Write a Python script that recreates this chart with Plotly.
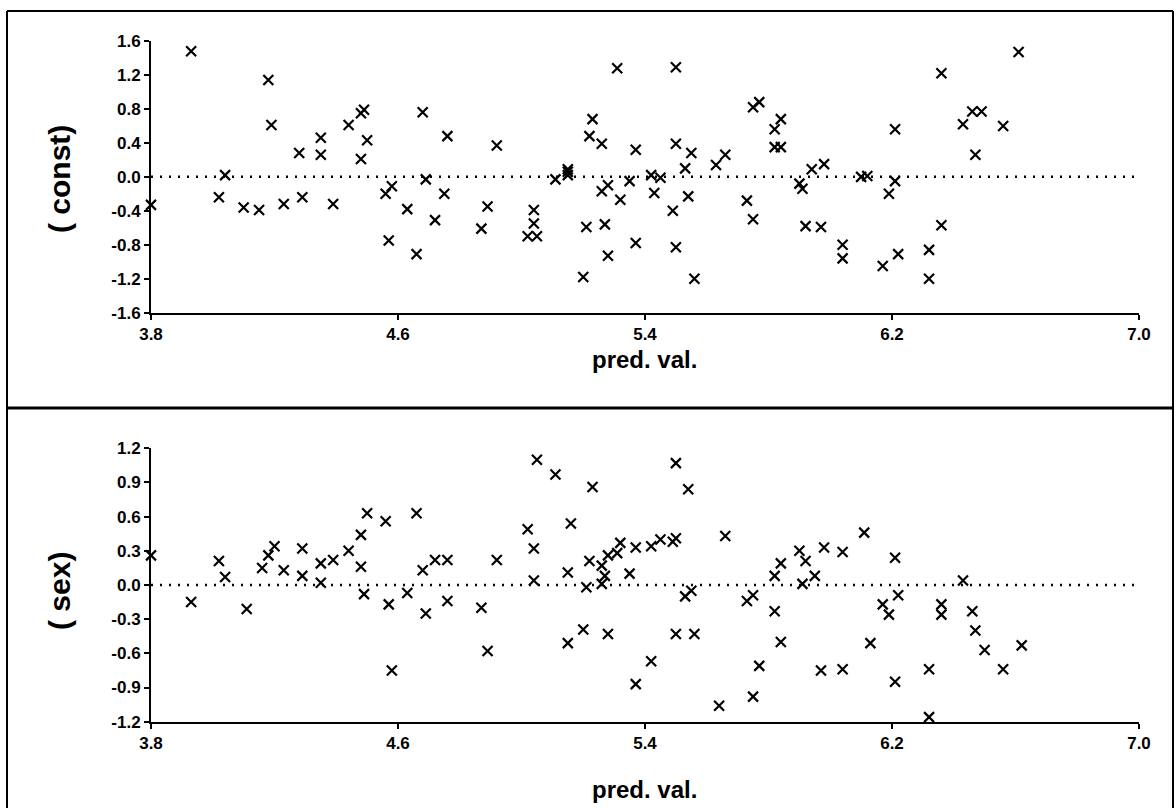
import plotly.graph_objects as go

# ---------------- data ----------------
const_x = [3.80, 3.93, 4.02, 4.04, 4.10, 4.15, 4.18, 4.19, 4.23, 4.28,
           4.29, 4.35, 4.35, 4.39, 4.44, 4.48, 4.49, 4.50, 4.48, 4.56,
           4.58, 4.57, 4.63, 4.66, 4.68, 4.69, 4.72, 4.76, 4.75, 4.87,
           4.89, 4.92, 5.02, 5.04, 5.04, 5.05, 5.11, 5.15, 5.15, 5.15,
           5.20, 5.21, 5.22, 5.23, 5.26, 5.26, 5.28, 5.27, 5.28, 5.31,
           5.32, 5.35, 5.37, 5.37, 5.42, 5.43, 5.45, 5.50, 5.50, 5.49,
           5.50, 5.53, 5.54, 5.55, 5.56, 5.63, 5.66, 5.73, 5.75, 5.75,
           5.77, 5.82, 5.84, 5.82, 5.84, 5.90, 5.91, 5.92, 5.94, 5.98,
           5.97, 6.04, 6.04, 6.10, 6.12, 6.17, 6.19, 6.21, 6.21, 6.22,
           6.32, 6.32, 6.36, 6.36, 6.43, 6.46, 6.49, 6.47, 6.56, 6.61]
const_y = [-0.33, 1.48, -0.24, 0.02, -0.36, -0.39, 1.14, 0.61, -0.32, 0.28,
           -0.24, 0.46, 0.26, -0.32, 0.61, 0.75, 0.79, 0.43, 0.21, -0.20,
           -0.11, -0.75, -0.38, -0.91, 0.76, -0.03, -0.51, 0.48, -0.20, -0.61,
           -0.35, 0.37, -0.70, -0.39, -0.55, -0.70, -0.03, 0.06, 0.09, 0.02,
           -1.18, -0.59, 0.48, 0.68, 0.39, -0.17, -0.10, -0.56, -0.93, 1.28,
           -0.27, -0.05, 0.32, -0.78, 0.02, -0.19, -0.01, 1.29, 0.39, -0.40,
           -0.83, 0.10, -0.23, 0.28, -1.20, 0.14, 0.26, -0.28, -0.50, 0.82,
           0.88, 0.56, 0.68, 0.35, 0.35, -0.08, -0.14, -0.58, 0.09, 0.15,
           -0.59, -0.80, -0.96, 0.00, 0.01, -1.05, -0.20, -0.05, 0.56, -0.91,
           -1.20, -0.86, -0.57, 1.22, 0.62, 0.77, 0.77, 0.26, 0.60, 1.47]

sex_x = [3.80, 3.93, 4.02, 4.04, 4.11, 4.16, 4.18, 4.20, 4.23, 4.29,
         4.29, 4.35, 4.35, 4.39, 4.44, 4.48, 4.48, 4.50, 4.49, 4.56,
         4.57, 4.58, 4.63, 4.66, 4.68, 4.69, 4.72, 4.76, 4.76, 4.87,
         4.89, 4.92, 5.02, 5.04, 5.04, 5.05, 5.11, 5.15, 5.15, 5.16,
         5.20, 5.21, 5.22, 5.23, 5.26, 5.26, 5.27, 5.28, 5.28, 5.31,
         5.32, 5.35, 5.37, 5.37, 5.42, 5.42, 5.45, 5.49, 5.50, 5.50,
         5.50, 5.53, 5.55, 5.54, 5.56, 5.64, 5.66, 5.73, 5.75, 5.75,
         5.77, 5.82, 5.84, 5.82, 5.84, 5.90, 5.92, 5.91, 5.95, 5.98,
         6.04, 5.97, 6.04, 6.11, 6.13, 6.17, 6.19, 6.21, 6.22, 6.21,
         6.32, 6.32, 6.36, 6.36, 6.43, 6.46, 6.47, 6.50, 6.56, 6.62]
sex_y = [0.26, -0.15, 0.21, 0.07, -0.21, 0.15, 0.26, 0.34, 0.13, 0.32,
         0.08, 0.19, 0.02, 0.22, 0.30, 0.44, 0.16, 0.63, -0.08, 0.56,
         -0.17, -0.75, -0.07, 0.63, 0.13, -0.25, 0.22, 0.22, -0.14, -0.20,
         -0.58, 0.22, 0.49, 0.32, 0.04, 1.10, 0.97, 0.11, -0.51, 0.54,
         -0.39, -0.02, 0.21, 0.86, 0.17, 0.01, 0.08, 0.26, -0.43, 0.28,
         0.37, 0.10, 0.33, -0.87, -0.67, 0.34, 0.40, 0.38, 0.41, 1.07,
         -0.43, -0.10, -0.05, 0.84, -0.43, -1.06, 0.43, -0.14, -0.09, -0.98,
         -0.71, 0.08, 0.19, -0.23, -0.50, 0.30, 0.21, 0.01, 0.08, 0.33,
         0.29, -0.75, -0.74, 0.46, -0.51, -0.17, -0.26, 0.24, -0.09, -0.85,
         -1.16, -0.74, -0.17, -0.26, 0.04, -0.23, -0.40, -0.57, -0.74, -0.53]

x_ticks = [3.8, 4.6, 5.4, 6.2, 7.0]
x_ticktext = ["3.8", "4.6", "5.4", "6.2", "7.0"]
const_ticks = [1.6, 1.2, 0.8, 0.4, 0.0, -0.4, -0.8, -1.2, -1.6]
const_ticktext = ["1.6", "1.2", "0.8", "0.4", "0.0", "-0.4", "-0.8", "-1.2", "-1.6"]
sex_ticks = [1.2, 0.9, 0.6, 0.3, 0.0, -0.3, -0.6, -0.9, -1.2]
sex_ticktext = ["1.2", "0.9", "0.6", "0.3", "0.0", "-0.3", "-0.6", "-0.9", "-1.2"]

x_range = [3.8, 7.0]
const_range = [-1.6, 1.6]
sex_range = [-1.2, 1.2]

y_title_top = "( const)"
y_title_bottom = "( sex)"
x_title = "pred. val."

# ---------------- layout geometry (pixels) ----------------
W, H = 1176, 808
L, R, T, B = 151, 37, 41, 86
PW, PH = W - L - R, H - T - B


def px(x):
    return (x - L) / PW


def py(y):
    return (H - B - y) / PH


FONT = "Liberation Sans, Arial, sans-serif"
marker = dict(symbol="x-thin", size=10, color="black",
              line=dict(width=2.2, color="black"))

fig = go.Figure()
fig.add_trace(go.Scatter(x=const_x, y=const_y, mode="markers", marker=marker,
                         xaxis="x", yaxis="y", cliponaxis=False,
                         showlegend=False, hoverinfo="skip"))
fig.add_trace(go.Scatter(x=sex_x, y=sex_y, mode="markers", marker=marker,
                         xaxis="x2", yaxis="y2", cliponaxis=False,
                         showlegend=False, hoverinfo="skip"))

tickfont = dict(family=FONT, size=17, color="black", weight="bold")
axis_base = dict(showline=True, linecolor="black", linewidth=2,
                 ticks="outside", ticklen=5, tickwidth=2, tickcolor="black",
                 showgrid=False, zeroline=False, tickfont=tickfont,
                 fixedrange=True)
inner_base = dict(showline=False, ticks="inside", ticklen=5, tickwidth=2,
                  tickcolor="black", showticklabels=False, showgrid=False,
                  zeroline=False, fixedrange=True)

top_dom = [py(312.7), py(41)]
bot_dom = [py(721.7), py(448.3)]

fig.update_layout(
    width=W, height=H,
    margin=dict(l=L, r=R, t=T, b=B),
    paper_bgcolor="white", plot_bgcolor="white",
    showlegend=False,
    xaxis=dict(**axis_base, range=x_range, tickvals=x_ticks, ticktext=x_ticktext,
               domain=[0, 1], anchor="y"),
    yaxis=dict(**axis_base, range=const_range, tickvals=const_ticks,
               ticktext=const_ticktext, domain=top_dom, anchor="x"),
    xaxis2=dict(**axis_base, range=x_range, tickvals=x_ticks, ticktext=x_ticktext,
                domain=[0, 1], anchor="y2"),
    yaxis2=dict(**axis_base, range=sex_range, tickvals=sex_ticks,
                ticktext=sex_ticktext, domain=bot_dom, anchor="x2"),
    # overlay axes giving the tick marks that cross the axis lines
    xaxis3=dict(**inner_base, range=x_range, tickvals=x_ticks[1:],
                overlaying="x", anchor="y", side="bottom"),
    yaxis3=dict(**inner_base, range=const_range, tickvals=const_ticks,
                overlaying="y", anchor="x", side="left"),
    xaxis4=dict(**inner_base, range=x_range, tickvals=x_ticks[1:],
                overlaying="x2", anchor="y2", side="bottom"),
    yaxis4=dict(**inner_base, range=sex_range, tickvals=sex_ticks,
                overlaying="y2", anchor="x2", side="left"),
)

# dotted zero reference lines
for xr, yr in (("x", "y"), ("x2", "y2")):
    fig.add_shape(type="line", xref=xr, yref=yr, x0=x_range[0], x1=x_range[1],
                  y0=0, y1=0, line=dict(color="black", width=2.5, dash="2px,7px"),
                  layer="below")

# outer frame
frame = dict(color="black", width=2)
fx0, fx1, fy0, fy1 = px(7), px(1173), py(11), py(812)
fig.add_shape(type="line", xref="paper", yref="paper", x0=fx0, x1=fx1, y0=fy0, y1=fy0, line=frame)
fig.add_shape(type="line", xref="paper", yref="paper", x0=fx0, x1=fx0, y0=fy0, y1=fy1, line=frame)
fig.add_shape(type="line", xref="paper", yref="paper", x0=fx1, x1=fx1, y0=fy0, y1=fy1, line=frame)
fig.add_shape(type="line", xref="paper", yref="paper", x0=fx0, x1=fx1,
              y0=py(408), y1=py(408), line=dict(color="black", width=3))

title_font = dict(family=FONT, size=30, color="black")
xt_font = dict(family=FONT, size=24, color="black")
fig.add_annotation(text="<b>%s</b>" % y_title_top, xref="paper", yref="paper",
                   x=px(59), y=py(179), textangle=-90, showarrow=False,
                   xanchor="center", yanchor="middle", font=title_font)
fig.add_annotation(text="<b>%s</b>" % y_title_bottom, xref="paper", yref="paper",
                   x=px(59), y=py(591), textangle=-90, showarrow=False,
                   xanchor="center", yanchor="middle", font=title_font)
fig.add_annotation(text="<b>%s</b>" % x_title, xref="paper", yref="paper",
                   x=px(644), y=py(359), showarrow=False,
                   xanchor="center", yanchor="middle", font=xt_font)
fig.add_annotation(text="<b>%s</b>" % x_title, xref="paper", yref="paper",
                   x=px(644), y=py(789), showarrow=False,
                   xanchor="center", yanchor="middle", font=xt_font)

fig.write_html("out.html")
